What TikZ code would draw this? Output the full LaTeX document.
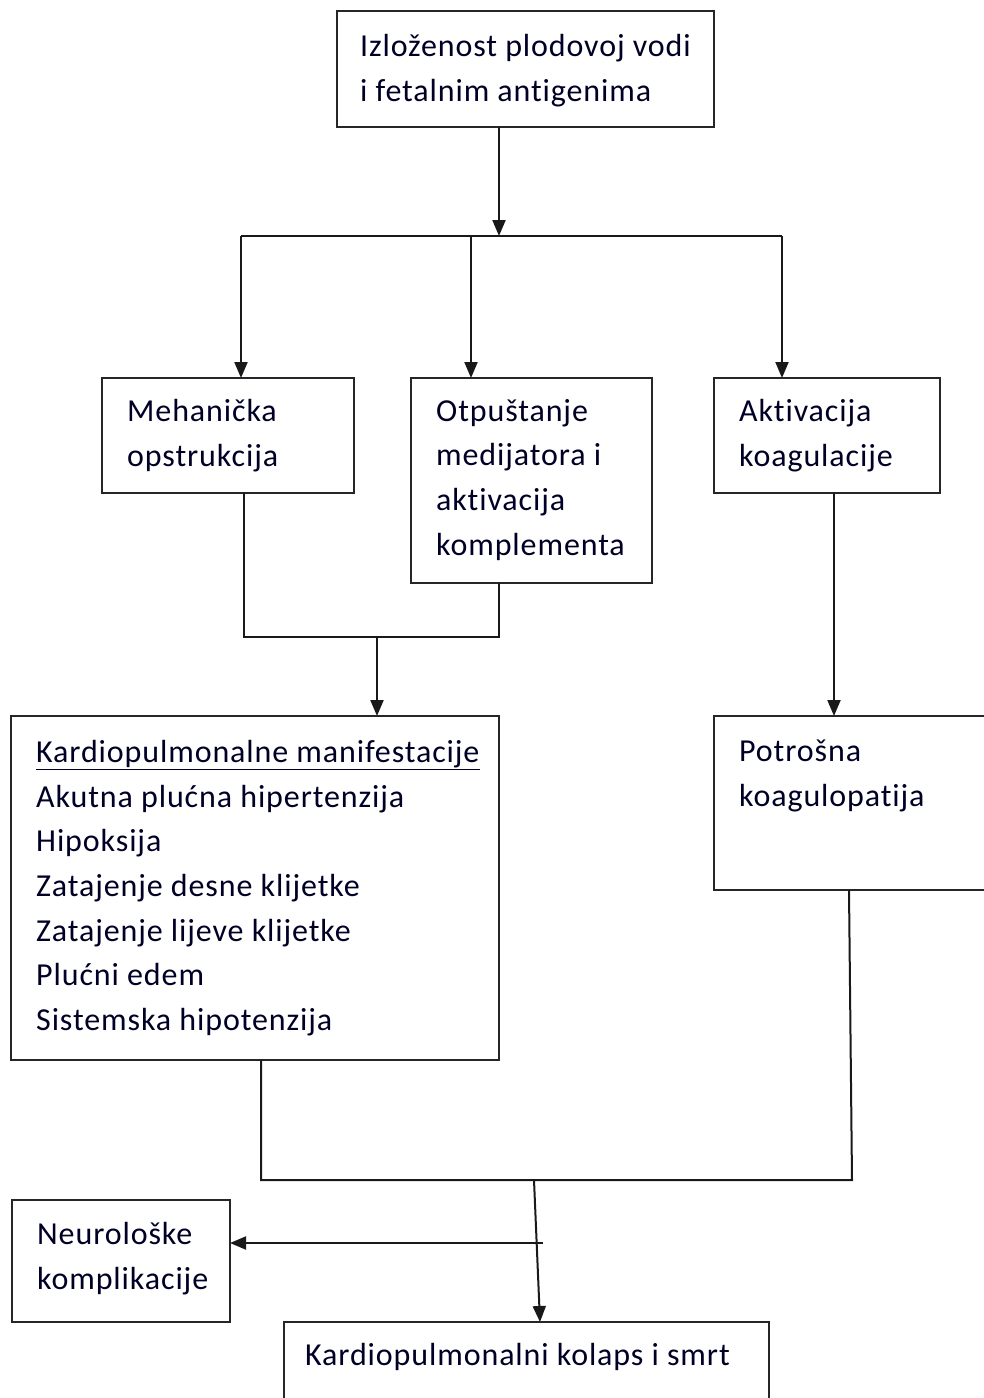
\documentclass[tikz,border=0pt]{standalone}
\usepackage{fontspec}
\setmainfont[Ligatures=NoCommon,LetterSpace=2.8]{Carlito}
\usetikzlibrary{arrows.meta}
\begin{document}
\begin{tikzpicture}[x=1pt,y=-1pt,
  box/.style={draw=black!85,line width=2pt,anchor=north west,inner sep=0pt,outer sep=0pt},
  txt/.style={anchor=north west,inner sep=0pt,align=left,font=\fontsize{32}{44.7}\selectfont,text=black!85!blue},
  conn/.style={line width=2pt,black!90},
  arr/.style={conn,-{Triangle[length=16pt,width=13pt]}}]
\useasboundingbox[fill=white] (0,0) rectangle (983,1398);
% boxes
\node[box,minimum width=377,minimum height=116] (top) at (337,11) {};
\node[box,minimum width=252,minimum height=115] (meh) at (102,378) {};
\node[box,minimum width=241,minimum height=205] (otp) at (411,378) {};
\node[box,minimum width=226,minimum height=115] (akt) at (714,378) {};
\node[box,minimum width=488,minimum height=344] (kar) at (11,716) {};
\node[box,minimum width=290,minimum height=174] (pot) at (714,716) {};
\node[box,minimum width=218,minimum height=122] (neu) at (12,1200) {};
\node[box,minimum width=485,minimum height=100] (kol) at (284,1322) {};
% texts
\node[txt] (ttop) at (360,34) {Izloženost plodovoj vodi\\i fetalnim antigenima};
\node[txt] (tmeh) at (127,399) {Mehanička\\opstrukcija};
\node[txt] (totp) at (436,399) {Otpuštanje\\medijatora i\\aktivacija\\komplementa};
\node[txt] (takt) at (739,399) {Aktivacija\\koagulacije};
\node[txt] (tkar) at (36,740) {\underline{Kardiopulmonalne manifestacije}\\Akutna plućna hipertenzija\\Hipoksija\\Zatajenje desne klijetke\\Zatajenje lijeve klijetke\\Plućni edem\\Sistemska hipotenzija};
\node[txt] (tpot) at (739,740) {Potrošna\\koagulopatija};
\node[txt] (tneu) at (37,1222) {Neurološke\\komplikacije};
\node[txt] (tkol) at (305,1343) {Kardiopulmonalni kolaps i smrt};
% junction coordinates
\coordinate (j1) at (499,236);
\coordinate (j1l) at (241,236);
\coordinate (j1m) at (471,236);
\coordinate (j1r) at (782,236);
\coordinate (mb) at (244,637);
\coordinate (ob) at (499,637);
\coordinate (j2) at (377,637);
\coordinate (kb) at (261,1180);
\coordinate (pb) at (852,1180);
\coordinate (j3) at (534,1180);
\coordinate (j4) at (543,1243);
% connectors
\draw[arr] (top.south -| j1) -- (j1);
\draw[conn] (j1l) -- (j1r);
\draw[arr] (j1l) -- (j1l |- meh.north);
\draw[arr] (j1m) -- (j1m |- otp.north);
\draw[arr] (j1r) -- (j1r |- akt.north);
\draw[conn] (meh.south -| mb) -- (mb) -- (ob) -- (ob |- otp.south);
\draw[arr] (j2) -- (j2 |- kar.north);
\draw[arr] (akt.south -| 834,0) -- (pot.north -| 834,0);
\draw[conn] (kar.south -| kb) -- (kb) -- (pb) -- (pot.south -| 849,0);
\draw[arr] (j3) -- (kol.north -| 540,0);
\draw[arr] (j4) -- (neu.east |- j4);
\end{tikzpicture}
\end{document}
